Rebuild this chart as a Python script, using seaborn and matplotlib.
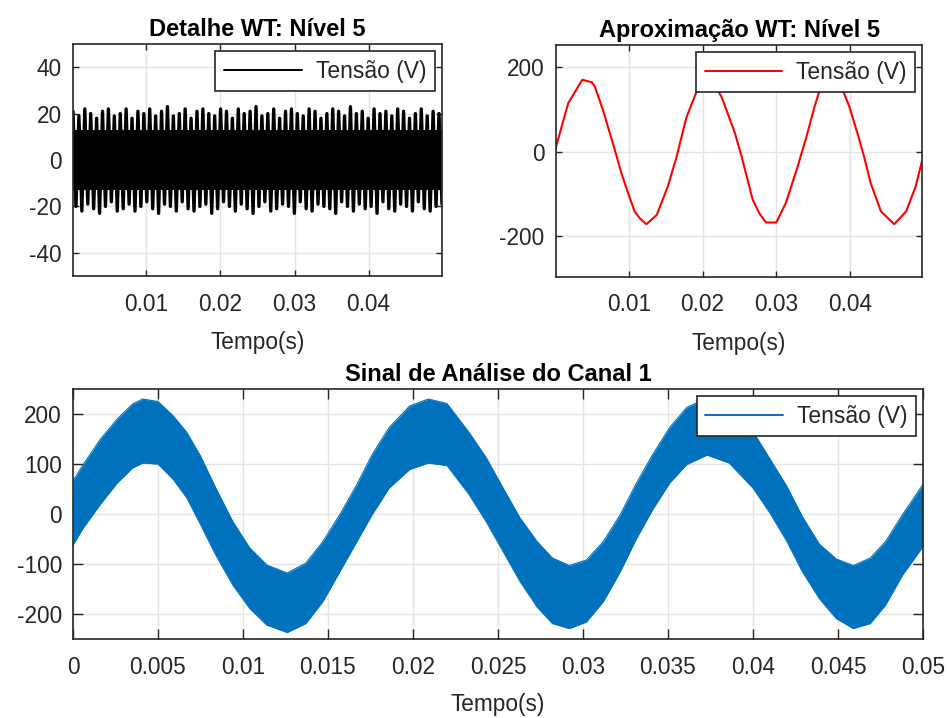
import numpy as np
import matplotlib
matplotlib.use("Agg")
import matplotlib.pyplot as plt
from matplotlib.lines import Line2D
import seaborn as sns

# --- Detalhe WT nivel 5 (picos e vales) ---
detalhe_picos = [21, 19, 22, 20, 18, 21, 22, 19, 20, 22,
                 18, 21, 20, 22, 19, 21, 23, 19, 20, 22,
                 18, 21, 22, 20, 19, 22, 21, 18, 22, 20,
                 21, 23, 19, 20, 22, 18, 21, 22, 20, 19,
                 22, 21, 18, 20, 22, 21, 19, 23, 20, 21,
                 18, 22, 20, 21, 19, 22, 21, 18, 20, 22,
                 19, 21, 20]
detalhe_vales = [-20, -22, -19, -21, -23, -20, -18, -22, -21, -19,
                 -22, -20, -18, -21, -23, -19, -20, -22, -18, -21,
                 -22, -20, -19, -23, -21, -18, -20, -22, -19, -21,
                 -23, -20, -18, -22, -21, -19, -20, -23, -18, -21,
                 -22, -19, -20, -21, -23, -18, -20, -22, -19, -21,
                 -20, -23, -18, -21, -22, -19, -20, -22, -18, -21,
                 -22, -20, -19]
detalhe_nucleo = [-13, 13]
detalhe_lim_t = [0.0001, 0.0499]

# --- Aproximacao WT nivel 5 ---
aprox_t = [0.0001, 0.0018, 0.0025, 0.0037, 0.0050, 0.0054, 0.0065, 0.0081, 0.0090, 0.0099,
           0.0108, 0.0115, 0.0124, 0.0138, 0.0153, 0.0165, 0.0178, 0.0192, 0.0204, 0.0215,
           0.0226, 0.0244, 0.0253, 0.0268, 0.0277, 0.0286, 0.0300, 0.0313, 0.0329, 0.0341,
           0.0352, 0.0359, 0.0371, 0.0383, 0.0390, 0.0399, 0.0410, 0.0419, 0.0428, 0.0442,
           0.0460, 0.0476, 0.0489, 0.0498]
aprox_v = [9, 115, 135, 170, 164, 154, 99, 5, -50, -97,
           -141, -157, -171, -149, -82, -11, 80, 142, 170, 162,
           129, 44, -11, -113, -145, -167, -167, -121, -35, 36,
           107, 146, 170, 162, 146, 107, 44, -11, -74, -141,
           -171, -141, -82, -19]

# --- Sinal do canal 1 (envoltorias da banda) ---
sinal_t = [0, 0.0006, 0.0016, 0.0026, 0.0035, 0.0041, 0.0050, 0.0059, 0.0067, 0.0075,
           0.0084, 0.0094, 0.0104, 0.0114, 0.0126, 0.0137, 0.0147, 0.0157, 0.0167, 0.0176,
           0.0186, 0.0198, 0.0209, 0.0220, 0.0233, 0.0243, 0.0253, 0.0263, 0.0273, 0.0282,
           0.0292, 0.0302, 0.0312, 0.0322, 0.0331, 0.0341, 0.0351, 0.0361, 0.0373, 0.0386,
           0.0400, 0.0410, 0.0420, 0.0429, 0.0439, 0.0449, 0.0459, 0.0469, 0.0478, 0.0488,
           0.0500]
sinal_sup = [66, 99, 149, 190, 220, 230, 225, 196, 163, 116,
             52, -15, -68, -102, -118, -98, -55, -1, 59, 119,
             173, 216, 230, 221, 163, 113, 52, -8, -55, -88,
             -103, -92, -55, -1, 59, 119, 173, 213, 232, 222,
             165, 110, 55, -5, -60, -90, -103, -88, -55, -1,
             59]
sinal_inf = [-62, -28, 19, 62, 92, 102, 100, 69, 32, -21,
             -82, -142, -189, -222, -237, -219, -175, -115, -55, -1,
             52, 89, 102, 97, 39, -15, -75, -135, -186, -219,
             -229, -216, -175, -115, -52, 9, 62, 99, 118, 102,
             52, 2, -55, -115, -169, -209, -229, -219, -182, -122,
             -65]

xt_top = [0.01, 0.02, 0.03, 0.04]
xt_top_lbl = ['0.01', '0.02', '0.03', '0.04']
yt_det = [-40, -20, 0, 20, 40]
yt_apx = [-200, 0, 200]
xt_bot = [0, 0.005, 0.01, 0.015, 0.02, 0.025, 0.03, 0.035, 0.04, 0.045, 0.05]
xt_bot_lbl = ['0', '0.005', '0.01', '0.015', '0.02', '0.025', '0.03', '0.035', '0.04', '0.045', '0.05']
yt_sig = [-200, -100, 0, 100, 200]

AZUL = '#0072BD'
CINZA = '#262626'

sns.set_theme(style="whitegrid")
plt.rcParams['font.family'] = ['Liberation Sans', 'DejaVu Sans']
plt.rcParams['axes.unicode_minus'] = False

fig = plt.figure(figsize=(9.48, 7.18), dpi=100)
ax1 = fig.add_axes([0.0770, 0.6156, 0.3892, 0.3231])
ax2 = fig.add_axes([0.5862, 0.6146, 0.3867, 0.3227])
ax3 = fig.add_axes([0.0770, 0.1100, 0.8966, 0.3482])


def estilo(ax, tick_len):
    ax.set_facecolor('white')
    ax.grid(True, color='#e4e4e4', lw=1.0)
    ax.set_axisbelow(True)
    for sp in ax.spines.values():
        sp.set_color(CINZA)
        sp.set_linewidth(1.2)
        sp.set_zorder(5)
    ax.tick_params(axis='both', direction='in', length=tick_len, width=1.0,
                   top=True, right=True, bottom=True, left=True,
                   colors=CINZA, labelsize=16.3)
    ax.tick_params(axis='x', pad=12)
    ax.tick_params(axis='y', pad=8)


def legenda(ax, handles):
    leg = ax.legend(handles, ['Tensão (V)'], loc='upper right', fontsize=16.5,
                    frameon=True, fancybox=False, framealpha=1, edgecolor=CINZA,
                    handlelength=3.4, handletextpad=0.6, borderpad=0.38,
                    borderaxespad=0.3)
    leg.get_frame().set_linewidth(1.2)
    leg.set_zorder(10)


# Detalhe
zig_t = np.linspace(detalhe_lim_t[0], detalhe_lim_t[1], 2 * len(detalhe_picos))
zig_v = np.column_stack([detalhe_picos, detalhe_vales]).ravel()
ax1.fill_between(detalhe_lim_t, detalhe_nucleo[0], detalhe_nucleo[1], color='black', lw=0)
sns.lineplot(x=zig_t, y=zig_v, ax=ax1, color='black', lw=2.4, sort=False, estimator=None)
ax1.set_xlim(detalhe_lim_t)
ax1.set_ylim(-50, 50)
ax1.set_xticks(xt_top, xt_top_lbl)
ax1.set_yticks(yt_det)
estilo(ax1, 4)
ax1.set_title('Detalhe WT: Nível 5', fontsize=17, fontweight='bold', pad=6, color='black')
ax1.set_xlabel('Tempo(s)', fontsize=16.3, labelpad=11, color=CINZA)
legenda(ax1, [Line2D([0], [0], color='black', lw=1.4)])

# Aproximacao
sns.lineplot(x=aprox_t, y=aprox_v, ax=ax2, color='red', lw=1.5, sort=False, estimator=None)
ax2.set_xlim(aprox_t[0], aprox_t[-1])
ax2.set_ylim(-295, 252)
ax2.set_xticks(xt_top, xt_top_lbl)
ax2.set_yticks(yt_apx)
estilo(ax2, 4)
ax2.set_title('Aproximação WT: Nível 5', fontsize=17, fontweight='bold', pad=6, color='black')
ax2.set_xlabel('Tempo(s)', fontsize=16.3, labelpad=11, color=CINZA)
legenda(ax2, [Line2D([0], [0], color='red', lw=1.4)])

# Sinal
ax3.fill_between(sinal_t, sinal_inf, sinal_sup, color=AZUL, lw=0)
sns.lineplot(x=sinal_t, y=sinal_sup, ax=ax3, color=AZUL, lw=0.8, sort=False, estimator=None)
sns.lineplot(x=sinal_t, y=sinal_inf, ax=ax3, color=AZUL, lw=0.8, sort=False, estimator=None)
ax3.set_xlim(0, 0.05)
ax3.set_ylim(-250, 250)
ax3.set_xticks(xt_bot, xt_bot_lbl)
ax3.set_yticks(yt_sig)
estilo(ax3, 7)
ax3.set_title('Sinal de Análise do Canal 1', fontsize=17, fontweight='bold', pad=6, color='black')
ax3.set_xlabel('Tempo(s)', fontsize=16.3, labelpad=10, color=CINZA)
legenda(ax3, [Line2D([0], [0], color=AZUL, lw=1.4)])

fig.savefig('out.png', dpi=100)
